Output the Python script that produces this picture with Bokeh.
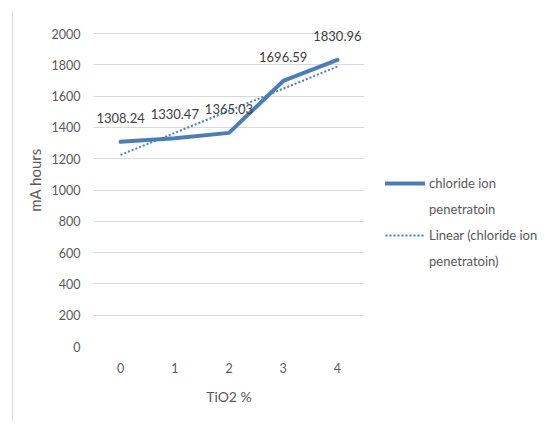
import numpy as np
from bokeh.plotting import figure
from bokeh.models import (ColumnDataSource, Legend, LegendItem, LabelSet,
                          InlineStyleSheet)
from bokeh.core.properties import value
from bokeh.embed import file_html
from bokeh.resources import INLINE

categories = ["0", "1", "2", "3", "4"]
values = [1308.24, 1330.47, 1365.03, 1696.59, 1830.96]
y_ticks = [0, 200, 400, 600, 800, 1000, 1200, 1400, 1600, 1800, 2000]
legend_rows = [("chloride ion", "penetratoin"),
               ("Linear (chloride ion", "penetratoin)")]

FONT = "Lato"
TXT = "#595959"
BLUE = "#4A7EBB"

idx = np.arange(len(values))
slope, intercept = np.polyfit(idx, values, 1)
trend = list(intercept + slope * idx)

src = ColumnDataSource(dict(x=categories, y=values, trend=trend,
                            lab=[f"{v:.2f}" for v in values]))

W, H = 542, 421
FH = 333          # frame height: 0..2000 spans 313 px, headroom above
TOP = 13
p = figure(frame_width=271, frame_height=FH, x_range=categories,
           y_range=(0, y_ticks[-1] * FH / 313), output_backend="svg",
           toolbar_location=None,
           min_border_left=93, min_border_right=W - 93 - 271,
           min_border_top=TOP, min_border_bottom=H - TOP - FH)
p.outline_line_color = None
p.xgrid.grid_line_color = None
p.ygrid.grid_line_color = "#d9d9d9"
p.ygrid.grid_line_width = 1
p.yaxis.ticker = y_ticks

for ax in (p.xaxis[0], p.yaxis[0]):
    ax.axis_line_color = None
    ax.major_tick_line_color = None
    ax.minor_tick_line_color = None
    ax.major_label_text_font = FONT
    ax.major_label_text_font_size = "12.5px"
    ax.major_label_text_color = TXT
    ax.axis_label_text_font = FONT
    ax.axis_label_text_font_size = "14px"
    ax.axis_label_text_color = TXT
    ax.axis_label_text_font_style = "normal"

p.xaxis.axis_label = "TiO2 %"
p.yaxis.axis_label = "mA hours"
p.yaxis.axis_label_text_font_size = "15px"
p.xaxis.major_label_standoff = 10
p.xaxis.axis_label_standoff = 12
p.yaxis.major_label_standoff = 7
p.yaxis.axis_label_standoff = 5

r_line = p.line("x", "y", source=src, line_color=BLUE, line_width=4,
                line_join="round", line_cap="round")
r_trend = p.line("x", "trend", source=src, line_color=BLUE, line_width=2,
                 line_dash="2 2")
r_blank = p.line(x=[], y=[], line_alpha=0)

labels = LabelSet(x="x", y="y", text="lab", source=src, y_offset=19,
                  text_align="center", text_baseline="bottom",
                  text_font=value(FONT), text_font_size="13px",
                  text_color="#404040")
p.add_layout(labels)

legend = Legend(items=[
    LegendItem(label=legend_rows[0][0], renderers=[r_line]),
    LegendItem(label=legend_rows[0][1], renderers=[r_blank]),
    LegendItem(label=legend_rows[1][0], renderers=[r_trend]),
    LegendItem(label=legend_rows[1][1], renderers=[r_blank]),
], location=(21, 75))
legend.border_line_color = None
legend.background_fill_alpha = 0
legend.padding = 0
legend.margin = 0
legend.spacing = 6
legend.glyph_width = 40
legend.glyph_height = 20
legend.label_height = 20
legend.label_standoff = 4
legend.label_text_font = FONT
legend.label_text_font_size = "13px"
legend.label_text_color = TXT
p.add_layout(legend, "right")

p.stylesheets = [InlineStyleSheet(css="""
:host::before { content: ""; position: absolute; left: 12px; top: 12px;
  width: 1px; height: 409px; background: #d9d9d9; z-index: 5; }
""")]

open("out.html", "w").write(file_html(p, INLINE))
